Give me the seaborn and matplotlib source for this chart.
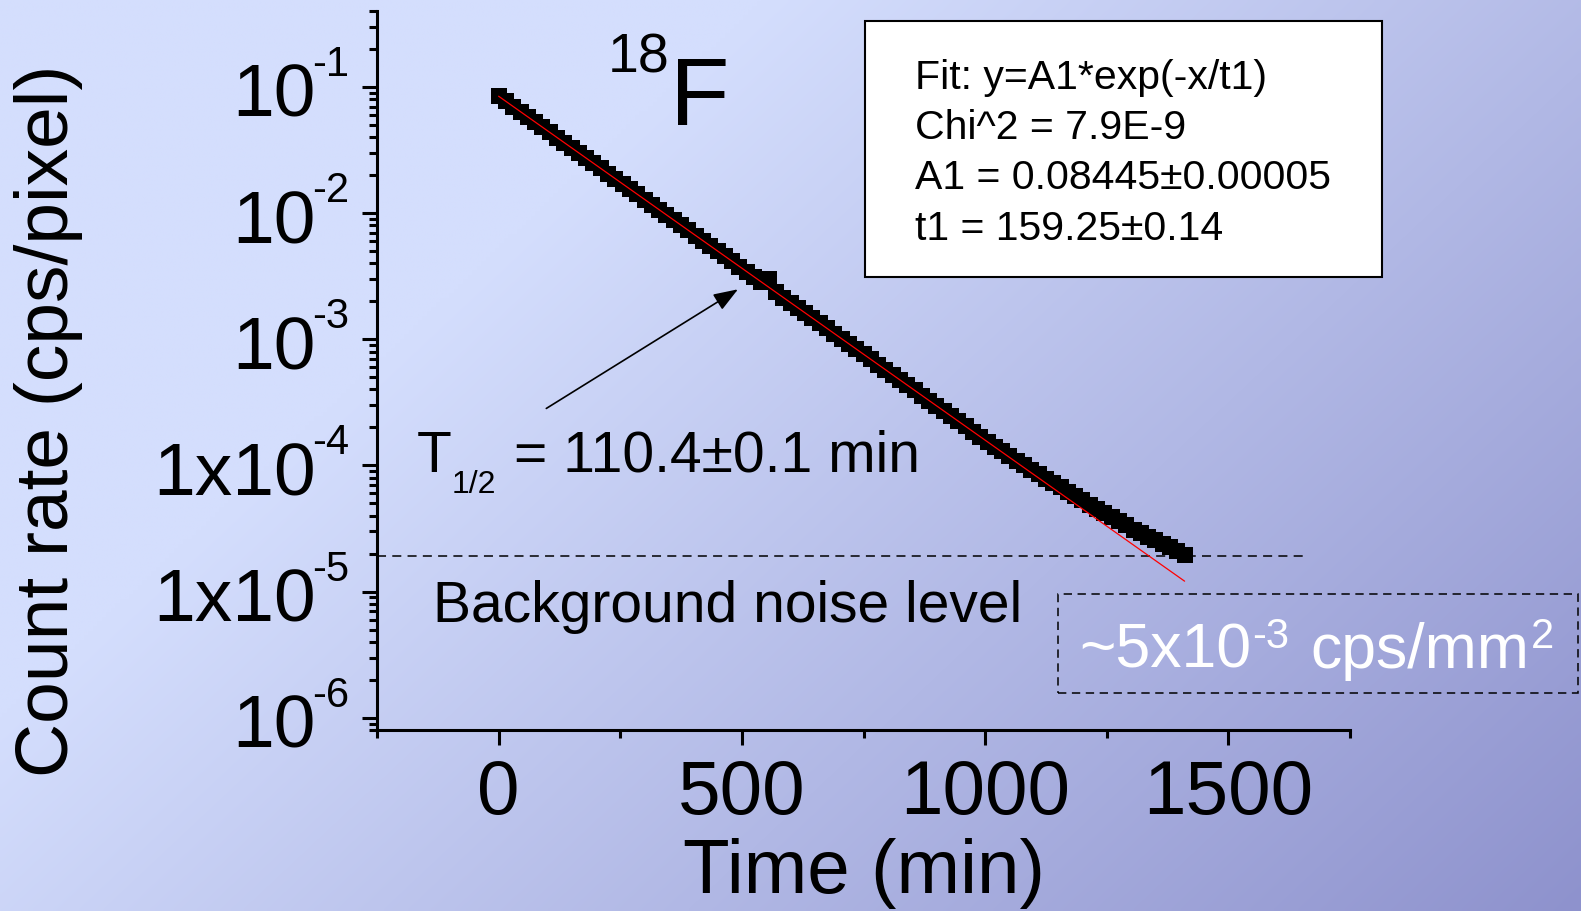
import numpy as np
import pandas as pd
import matplotlib
matplotlib.use("Agg")
import matplotlib.pyplot as plt
import seaborn as sns
from matplotlib import transforms as mtransforms
from matplotlib.patches import Rectangle
from matplotlib.ticker import FixedLocator, LogLocator, NullFormatter

# ---------------- data ----------------
time_min = [0, 15, 30, 45, 60, 75, 90, 105, 120, 135, 150, 165, 180, 195, 210, 225,
            240, 255, 270, 285, 300, 315, 330, 345, 360, 375, 390, 405, 420, 435, 450,
            465, 480, 495, 510, 525, 540, 555, 570, 585, 600, 615, 630, 645, 660, 675,
            690, 705, 720, 735, 750, 765, 780, 795, 810, 825, 840, 855, 870, 885, 900,
            915, 930, 945, 960, 975, 990, 1005, 1020, 1035, 1050, 1065, 1080, 1095,
            1110, 1125, 1140, 1155, 1170, 1185, 1200, 1215, 1230, 1245, 1260, 1275,
            1290, 1305, 1320, 1335, 1350, 1365, 1380, 1395, 1410]
count_rate = [0.0845, 0.0769, 0.0700, 0.0637, 0.0579, 0.0527, 0.0480, 0.0437, 0.0397,
              0.0362, 0.0329, 0.0300, 0.0273, 0.0248, 0.0226, 0.0206, 0.0187, 0.0170,
              0.0155, 0.0141, 0.0128, 0.0117, 0.0106, 0.00968, 0.00881, 0.00801,
              0.00729, 0.00664, 0.00604, 0.00550, 0.00500, 0.00455, 0.00415, 0.00377,
              0.00343, 0.00312, 0.00284, 0.00300, 0.00236, 0.00214, 0.00195, 0.00178,
              0.00162, 0.00147, 0.00134, 0.00122, 0.00111, 0.00101, 0.000919, 0.000836,
              0.000761, 0.000692, 0.000630, 0.000573, 0.000522, 0.000475, 0.000432,
              0.000393, 0.000358, 0.000326, 0.000297, 0.000270, 0.000246, 0.000224,
              0.000204, 0.000185, 0.000169, 0.000154, 0.000141, 0.000129, 0.000118,
              0.000108, 0.000100, 9.2e-5, 8.5e-5, 7.8e-5, 7.2e-5, 6.7e-5, 6.2e-5,
              5.7e-5, 5.3e-5, 4.9e-5, 4.5e-5, 4.2e-5, 3.9e-5, 3.6e-5, 3.35e-5, 3.1e-5,
              2.9e-5, 2.7e-5, 2.55e-5, 2.4e-5, 2.25e-5, 2.1e-5, 1.95e-5]

fit_time = [0, 1410]
fit_rate = [0.08445, 1.21e-5]

noise_time = [-250, 1660]
noise_rate = [1.93e-5, 1.93e-5]

arrow_from = (98, 2.83e-4)
arrow_to = (492, 2.49e-3)

xtick_vals = [0, 500, 1000, 1500]
xminor_vals = [-250, 250, 750, 1250, 1750]
ytick_vals = [1e-1, 1e-2, 1e-3, 1e-4, 1e-5, 1e-6]
ytick_base = ["10", "10", "10", "1x10", "1x10", "10"]
ytick_exp = ["-1", "-2", "-3", "-4", "-5", "-6"]

fit_lines = ["Fit: y=A1*exp(-x/t1)", "Chi^2 = 7.9E-9",
             "A1 = 0.08445\u00b10.00005", "t1 = 159.25\u00b10.14"]

# ---------------- style ----------------
sns.set_style("ticks")
plt.rcParams["font.family"] = ["Liberation Sans", "DejaVu Sans"]
plt.rcParams["lines.scale_dashes"] = False
for k in ["text.color", "axes.labelcolor", "xtick.color", "ytick.color",
          "xtick.labelcolor", "ytick.labelcolor", "axes.edgecolor"]:
    plt.rcParams[k] = "black"

W, H = 1581, 912
fig = plt.figure(figsize=(W / 100, H / 100), dpi=100)

# background gradient
bg = fig.add_axes([0, 0, 1, 1], zorder=-10)
yy, xx = np.mgrid[0:1:200j, 0:1:350j]
s = 0.62 * xx + 0.38 * yy
t = np.clip((s - 0.3) / 0.7, 0, 1)[..., None]
c0 = np.array([212, 222, 253]) / 255
c1 = np.array([142, 146, 205]) / 255
img = c0 + (c1 - c0) * t
bg.imshow(img, aspect="auto", extent=[0, 1, 0, 1], origin="upper", interpolation="bilinear")
bg.axis("off")

ax = fig.add_axes([377 / W, 1 - 731 / H, 973 / W, 719 / H])
ax.patch.set_alpha(0)
ax.set_yscale("log")

df = pd.DataFrame({"time": time_min, "rate": count_rate})
sns.scatterplot(data=df, x="time", y="rate", marker="s", s=118, color="black",
                linewidth=0, ax=ax, legend=False, zorder=3)
sns.lineplot(x=fit_time, y=fit_rate, color="red", lw=0.9, ax=ax, zorder=4)
ax.plot(noise_time, noise_rate, color="black", lw=1.1, dashes=(6.5, 4.5), zorder=2)

ax.set_xlim(-250, 1750)
ax.set_ylim(8e-7, 0.4)

ax.xaxis.set_major_locator(FixedLocator(xtick_vals))
ax.xaxis.set_minor_locator(FixedLocator(xminor_vals))
ax.yaxis.set_major_locator(LogLocator(base=10, numticks=20))
ax.yaxis.set_minor_locator(LogLocator(base=10, subs=np.arange(2, 10), numticks=20))
ax.yaxis.set_major_formatter(NullFormatter())
ax.yaxis.set_minor_formatter(NullFormatter())

for side in ["top", "right"]:
    ax.spines[side].set_visible(False)
for side in ["left", "bottom"]:
    ax.spines[side].set_linewidth(2.2)
    ax.spines[side].set_color("black")

ax.tick_params(which="major", length=11, width=2.2, direction="out", color="black")
ax.tick_params(which="minor", length=6, width=2.2, direction="out", color="black")
ax.tick_params(axis="x", which="major", labelsize=55, pad=9, labelcolor="black")
ax.set_xlabel("Time (min)", fontsize=55, labelpad=6, color="black")
ax.set_ylabel("Count rate (cps/pixel)", fontsize=54, color="black")
ax.yaxis.set_label_coords((83 - 377) / 973, (731 - 421) / 719)

# y tick labels (base + superscript)
ytrans = ax.get_yaxis_transform()
for v, b, e in zip(ytick_vals, ytick_base, ytick_exp):
    tb = mtransforms.offset_copy(ytrans, fig=fig, x=-61 * 0.72, y=-29 * 0.72, units="points")
    ax.text(0, v, b, transform=tb, ha="right", va="baseline", fontsize=54,
            color="black", clip_on=False)
    te = mtransforms.offset_copy(ytrans, fig=fig, x=-64.5 * 0.72, y=12 * 0.72, units="points")
    ax.text(0, v, e, transform=te, ha="left", va="baseline", fontsize=30,
            color="black", clip_on=False)

# arrow
ax.annotate("", xy=arrow_to, xytext=arrow_from,
            arrowprops=dict(arrowstyle="-|>,head_length=0.6,head_width=0.22",
                            color="black", lw=1.2, mutation_scale=25,
                            shrinkA=0, shrinkB=0))

px = mtransforms.IdentityTransform()


def ftext(x, y_top, s, size, color="black"):
    fig.text(x, H - y_top, s, transform=px, fontsize=size, color=color,
             ha="left", va="baseline")


ftext(608, 73, "18", 40)
ftext(670, 125, "F", 70)
ftext(417, 472, "T", 41)
ftext(451.5, 493, "1/2", 23)
ftext(514, 472, "= 110.4\u00b10.1 min", 41)
ftext(433, 622, "Background noise level", 41)

# fit box
fig.patches.append(Rectangle((865, H - 278), 517, 256, transform=px,
                             facecolor="white", edgecolor="black", lw=1.5, zorder=5))
for i, line in enumerate(fit_lines):
    fig.text(915, H - (89 + 50.2 * i), line, transform=px, fontsize=29.5,
             ha="left", va="baseline", color="black", zorder=6)

# dashed box with white text
fig.patches.append(Rectangle((1058, H - 694), 520, 99, transform=px,
                             facecolor="none", edgecolor="black", lw=1.1,
                             linestyle=(0, (6, 4)), zorder=5))
ftext(1079, 668, "~5x10", 45, "white")
ftext(1252, 648, "-3", 30, "white")
ftext(1310.5, 668, "cps/mm", 45, "white")
ftext(1531, 648, "2", 30, "white")

fig.savefig("out.png", dpi=100)
